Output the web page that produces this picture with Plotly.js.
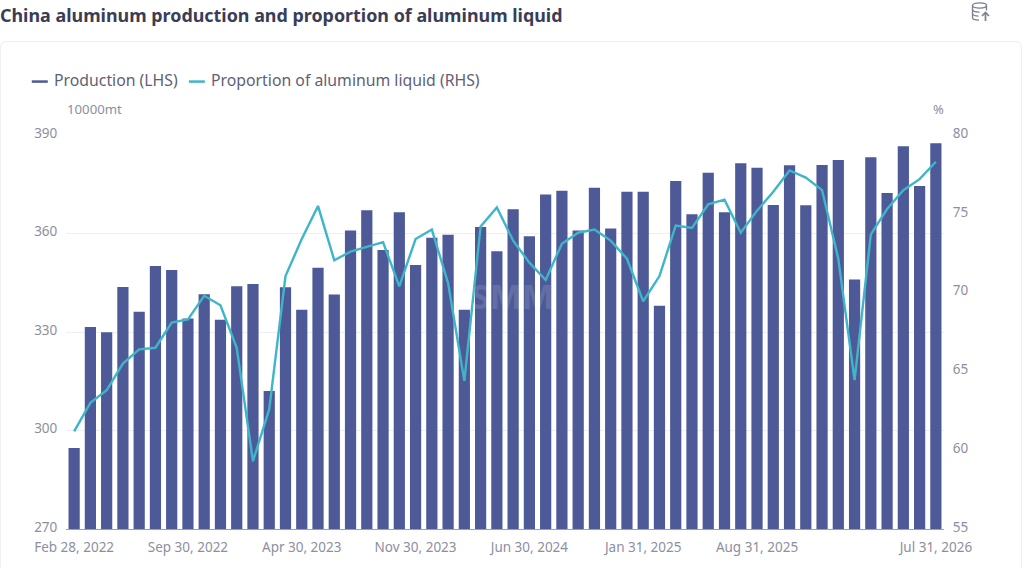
<!DOCTYPE html>
<html>
<head>
<meta charset="utf-8">
<script src="https://cdn.plot.ly/plotly-3.0.1.min.js"></script>
<style>
    html, body { margin: 0; padding: 0; background: #ffffff; overflow: hidden; }
    #card { position: absolute; left: 0; top: 41px; width: 1022px; height: 540px; border: 1px solid #eeeef5; border-radius: 6px; box-sizing: border-box; }
    #chart { position: absolute; left: 0; top: 0; width: 1024px; height: 568px; }
    #icon { position: absolute; left: 970px; top: 1px; width: 22px; height: 22px; }
</style>
</head>
<body>
<div id="card"></div>
<div id="chart"></div>
<svg id="icon" viewBox="0 0 22 22" fill="none" stroke="#7b7f90" stroke-width="1.3">
    <ellipse cx="9.5" cy="4.5" rx="7" ry="2.6"/>
    <path d="M2.5 4.5v12c0 1.5 3 2.6 6.5 2.6"/>
    <path d="M16.5 4.5v5"/>
    <path d="M2.5 8.5c0 1.5 3 2.6 7 2.6"/>
    <path d="M2.5 12.5c0 1.5 3 2.6 6 2.6"/>
    <path d="M15.5 20v-8M12 15l3.5-3.5L19 15" stroke-width="1.7"/>
</svg>
<script>
/* ── DATA ─────────────────────────────────────────────── */
const months = [
    "Feb 28, 2022","Mar 31, 2022","Apr 30, 2022","May 31, 2022","Jun 30, 2022","Jul 31, 2022",
    "Aug 31, 2022","Sep 30, 2022","Oct 31, 2022","Nov 30, 2022","Dec 31, 2022","Jan 31, 2023",
    "Feb 28, 2023","Mar 31, 2023","Apr 30, 2023","May 31, 2023","Jun 30, 2023","Jul 31, 2023",
    "Aug 31, 2023","Sep 30, 2023","Oct 31, 2023","Nov 30, 2023","Dec 31, 2023","Jan 31, 2024",
    "Feb 29, 2024","Mar 31, 2024","Apr 30, 2024","May 31, 2024","Jun 30, 2024","Jul 31, 2024",
    "Aug 31, 2024","Sep 30, 2024","Oct 31, 2024","Nov 30, 2024","Dec 31, 2024","Jan 31, 2025",
    "Feb 28, 2025","Mar 31, 2025","Apr 30, 2025","May 31, 2025","Jun 30, 2025","Jul 31, 2025",
    "Aug 31, 2025","Sep 30, 2025","Oct 31, 2025","Nov 30, 2025","Dec 31, 2025","Jan 31, 2026",
    "Feb 28, 2026","Mar 31, 2026","Apr 30, 2026","May 31, 2026","Jun 30, 2026","Jul 31, 2026"
];

const production = [
    294.7, 331.5, 329.9, 343.7, 336.2, 350.1, 348.9, 334.1, 341.5, 333.7, 343.9, 344.6,
    312.0, 343.6, 336.8, 349.6, 341.4, 360.9, 367.1, 355.0, 366.5, 350.4, 358.7, 359.6,
    336.8, 362.0, 354.6, 367.4, 359.2, 371.9, 373.0, 360.9, 373.9, 361.5, 372.7, 372.7,
    338.0, 376.0, 365.9, 378.5, 366.5, 381.4, 380.0, 368.7, 380.8, 368.6, 380.9, 382.4,
    346.0, 383.2, 372.3, 386.6, 374.5, 387.5
];

const liquidShare = [
    61.2, 63.0, 63.8, 65.5, 66.4, 66.5, 68.1, 68.3, 69.8, 69.2, 66.5, 59.3,
    62.6, 71.05, 73.4, 75.5, 72.05, 72.6, 72.9, 73.2, 70.4, 73.4, 74.0, 70.6,
    64.4, 74.2, 75.4, 73.3, 71.9, 70.8, 73.1, 73.8, 74.0, 73.3, 72.15, 69.45,
    71.05, 74.25, 74.1, 75.6, 75.9, 73.8, 75.2, 76.4, 77.75, 77.3, 76.5, 72.15,
    64.45, 73.7, 75.3, 76.5, 77.2, 78.3
];

const xTickLabels = ["Feb 28, 2022","Sep 30, 2022","Apr 30, 2023","Nov 30, 2023","Jun 30, 2024","Jan 31, 2025","Aug 31, 2025","Jul 31, 2026"];
const leftTicks  = [270, 300, 330, 360, 390];
const rightTicks = [55, 60, 65, 70, 75, 80];

/* ── COLORS ───────────────────────────────────────────── */
const colors = {
    bar   : "#4d5a97",
    line  : "#3fb5c9",
    title : "#3a3d56",
    label : "#5f6174",
    tick  : "#8d8f9f",
    grid  : "#eeeef6",
    axis  : "#9d9fb0"
};
const fontFamily = "'Noto Sans', sans-serif";

/* ── TRACES ───────────────────────────────────────────── */
const productionTrace = {
    x: months,
    y: production,
    type: "bar",
    name: "Production (LHS)",
    marker: { color: colors.bar }
};

const shareTrace = {
    x: months,
    y: liquidShare,
    yaxis: "y2",
    type: "scatter",
    mode: "lines",
    name: "Proportion of aluminum liquid (RHS)",
    line: { color: colors.line, width: 2.4 }
};

/* ── LAYOUT ───────────────────────────────────────────── */
const plotLeft = 66.2, plotWidth = 877.5, plotBottom = 529, plotHeight = 394.5;

function paperText(text, px, py, size, color, anchor) {
    return {
        text: text, xref: "paper", yref: "paper",
        x: (px - plotLeft) / plotWidth, y: (plotBottom - py) / plotHeight,
        xanchor: anchor || "left", yanchor: "middle",
        showarrow: false,
        font: { family: fontFamily, size: size, color: color }
    };
}

function legendSwatch(x0, x1, color) {
    const yy = (plotBottom - 81) / plotHeight;
    return {
        type: "line", xref: "paper", yref: "paper",
        x0: (x0 - plotLeft) / plotWidth, x1: (x1 - plotLeft) / plotWidth, y0: yy, y1: yy,
        line: { color: color, width: 2.5 }
    };
}

const watermark = paperText("SMM", 512, 296, 34, "rgba(255,255,255,0.14)", "center");
watermark.font.weight = 700;

const layout = {
    width: 1024,
    height: 568,
    margin: { l: plotLeft, r: 1024 - plotLeft - plotWidth, t: 134.5, b: 39 },
    paper_bgcolor: "rgba(0,0,0,0)",
    plot_bgcolor: "rgba(0,0,0,0)",
    font: { family: fontFamily, size: 13.5, color: colors.tick },
    showlegend: false,
    bargap: 0.31,
    title: {
        text: "<b>China aluminum production and proportion of aluminum liquid</b>",
        font: { family: fontFamily, size: 17.9, color: colors.title },
        xref: "container", yref: "container",
        x: 0, xanchor: "left",
        y: 0.972, yanchor: "middle",
        pad: { l: 0, r: 0, t: 0, b: 0 }
    },
    xaxis: {
        type: "category",
        tickmode: "array",
        tickvals: xTickLabels,
        ticktext: xTickLabels,
        ticks: "outside",
        ticklen: 6,
        tickcolor: "rgba(0,0,0,0)",
        showgrid: false,
        showline: true,
        linecolor: colors.axis,
        linewidth: 1,
        tickfont: { size: 13.5, color: colors.tick }
    },
    yaxis: {
        range: [270, 390],
        tickmode: "array",
        tickvals: leftTicks,
        gridcolor: colors.grid,
        zeroline: false,
        ticks: "outside",
        ticklen: 5,
        ticklabelshift: -2,
        tickcolor: "rgba(0,0,0,0)",
        tickfont: { size: 13.5, color: colors.tick }
    },
    yaxis2: {
        range: [55, 80],
        overlaying: "y",
        side: "right",
        tickmode: "array",
        tickvals: rightTicks,
        showgrid: false,
        zeroline: false,
        ticks: "outside",
        ticklen: 5,
        ticklabelshift: -2,
        tickcolor: "rgba(0,0,0,0)",
        tickfont: { size: 13.5, color: colors.tick }
    },
    shapes: [
        legendSwatch(32, 48, colors.bar),
        legendSwatch(189, 205, colors.line)
    ],
    annotations: [
        paperText("Production (LHS)", 52, 79, 15.8, colors.label),
        paperText("Proportion of aluminum liquid (RHS)", 209, 79, 15.8, colors.label),
        paperText("10000mt", 65, 108, 13.2, colors.tick),
        paperText("%", 938, 108, 13, colors.tick, "center"),
        watermark
    ]
};

Plotly.newPlot("chart", [productionTrace, shareTrace], layout, { displayModeBar: false, responsive: false });
</script>
</body>
</html>
